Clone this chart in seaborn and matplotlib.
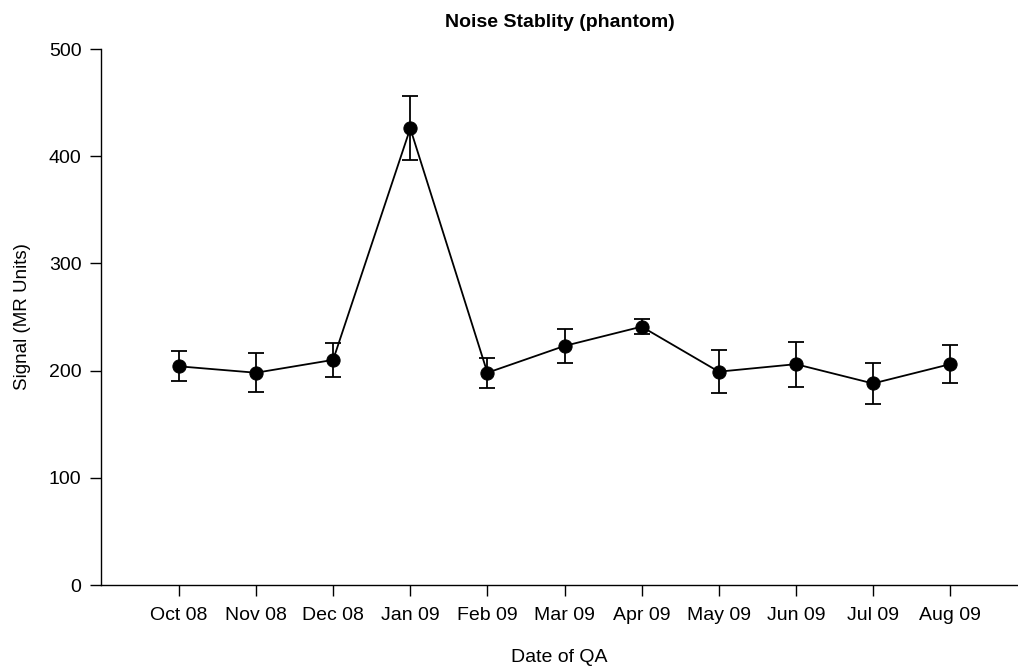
import matplotlib
matplotlib.use("Agg")
import matplotlib.pyplot as plt
import seaborn as sns
import pandas as pd
import numpy as np

months = ["Oct 08", "Nov 08", "Dec 08", "Jan 09", "Feb 09", "Mar 09",
          "Apr 09", "May 09", "Jun 09", "Jul 09", "Aug 09"]
signal = [204, 198, 210, 426, 198, 223, 241, 199, 206, 188, 206]
error = [14, 18, 16, 30, 14, 16, 7, 20, 21, 19, 18]

sns.set_theme(style="white")
plt.rcParams['font.family'] = ['Liberation Sans', 'DejaVu Sans']

df = pd.DataFrame({"pos": np.arange(len(months)), "signal": signal, "err": error})

fig = plt.figure(figsize=(10.18, 6.71), dpi=100)
ax = fig.add_axes([101/1018, 1 - 585/671, 1 - 101/1018, (585 - 49)/671])

ax.errorbar(df["pos"], df["signal"], yerr=df["err"], fmt="none",
            ecolor="black", elinewidth=1.3, capsize=6, capthick=1.3, zorder=2)
sns.lineplot(data=df, x="pos", y="signal", ax=ax, color="black",
             linewidth=1.3, marker="o", markersize=9.5, markeredgecolor="black",
             markerfacecolor="black", zorder=3)

ax.set_xlim(-1.01, 10.88)
ax.set_ylim(0, 500)
ax.set_xticks(df["pos"])
ax.set_xticklabels(months)
ax.set_yticks([0, 100, 200, 300, 400, 500])

for s in ["top", "right"]:
    ax.spines[s].set_visible(False)
for s in ["left", "bottom"]:
    ax.spines[s].set_color("black")
    ax.spines[s].set_linewidth(1.0)

ax.tick_params(axis="both", which="major", direction="out", length=8,
               width=1, color="black", labelsize=14, labelcolor="black",
               left=True, bottom=True)
ax.tick_params(axis="x", pad=8)
ax.tick_params(axis="y", pad=6)

ax.set_xlabel("Date of QA", fontsize=14, color="black", labelpad=18)
ax.set_ylabel("Signal (MR Units)", fontsize=13.5, color="black", labelpad=13)
ax.set_title("Noise Stablity (phantom)", fontsize=14, fontweight="bold",
             color="black", pad=16)

fig.savefig("out.png", dpi=100, facecolor="white")
